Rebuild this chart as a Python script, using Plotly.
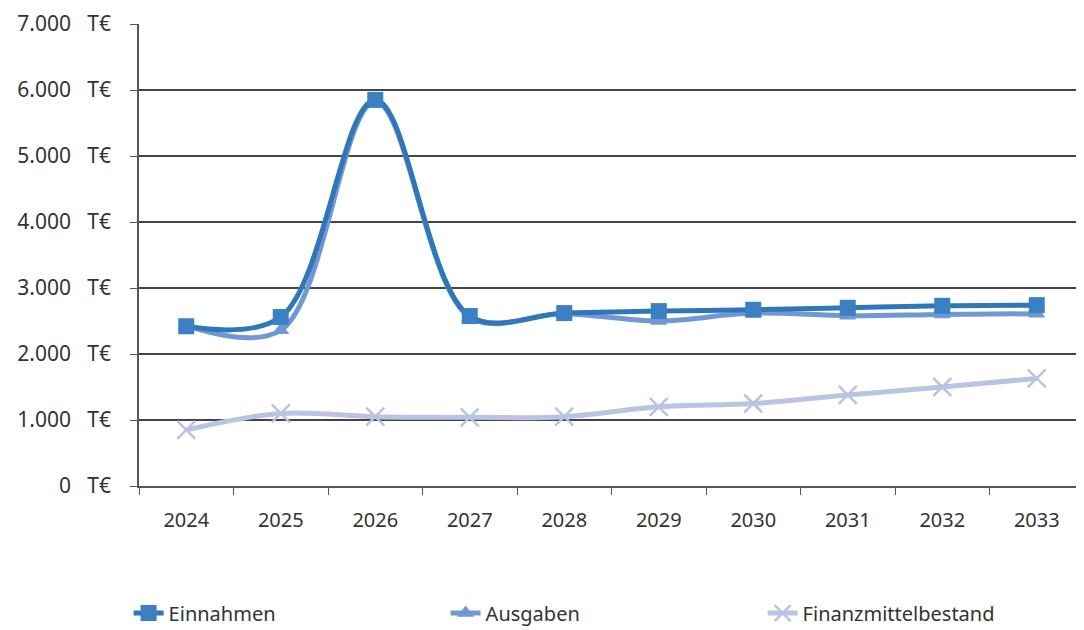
import plotly.graph_objects as go

jahre = ["2024", "2025", "2026", "2027", "2028", "2029", "2030", "2031", "2032", "2033"]
einnahmen = [2420, 2560, 5850, 2575, 2620, 2650, 2670, 2700, 2730, 2740]
ausgaben = [2430, 2360, 5820, 2560, 2610, 2500, 2620, 2580, 2600, 2610]
finanzmittel = [850, 1100, 1050, 1040, 1050, 1200, 1250, 1380, 1500, 1630]
y_ticks = [0, 1000, 2000, 3000, 4000, 5000, 6000, 7000]
y_labels = [f"{v:,}".replace(",", ".") + "   T€" for v in y_ticks]

fig = go.Figure()

# Reihenfolge: hellste Linie zuerst, damit die Einnahmen oben liegen
fig.add_trace(go.Scatter(
    x=jahre, y=finanzmittel, name="Finanzmittelbestand",
    mode="lines+markers",
    line=dict(color="#B8C4E2", width=5, shape="spline", smoothing=1),
    marker=dict(symbol="x-thin", size=18, color="#B8C4E2",
                line=dict(color="#B8C4E2", width=2.5)),
    legendrank=3,
))
fig.add_trace(go.Scatter(
    x=jahre, y=ausgaben, name="Ausgaben",
    mode="lines+markers",
    line=dict(color="#7098D4", width=5, shape="spline", smoothing=1),
    marker=dict(symbol="triangle-up", size=15, color="#7098D4"),
    legendrank=2,
))
fig.add_trace(go.Scatter(
    x=jahre, y=einnahmen, name="Einnahmen",
    mode="lines+markers",
    line=dict(color="#2F77B9", width=5, shape="spline", smoothing=1),
    marker=dict(symbol="square", size=16, color="#3A80C2"),
    legendrank=1,
))

# die Seite hat 8px Rand, daher etwas kleiner und Ränder angepasst
fig.update_layout(
    width=1076, height=622,
    margin=dict(l=131, r=0, t=16, b=144, autoexpand=False),
    paper_bgcolor="white", plot_bgcolor="white",
    font=dict(family="Noto Sans", size=20, color="#333333"),
    showlegend=True,
    legend=dict(
        orientation="h", x=-0.011, y=-0.275, xanchor="left", yanchor="middle",
        entrywidth=272, entrywidthmode="pixels",
        font=dict(size=20, color="#333333"),
        traceorder="normal",
    ),
    xaxis=dict(
        type="category", showgrid=False, showline=True, linecolor="#555555", linewidth=1.5,
        ticks="outside", tickson="boundaries", ticklen=7, tickcolor="#555555",
        range=[-0.5, 9.5], automargin=False, ticklabelstandoff=15,
    ),
    yaxis=dict(
        range=[0, 7000], tickvals=y_ticks, ticktext=y_labels,
        tickfont=dict(size=21),
        showgrid=True, gridcolor="#444444", gridwidth=1.5,
        showline=True, linecolor="#555555", linewidth=1.5,
        ticks="outside", ticklen=7, tickcolor="#555555",
        zeroline=False, automargin=False, ticklabelstandoff=15,
    ),
)

fig.write_html("out.html")
